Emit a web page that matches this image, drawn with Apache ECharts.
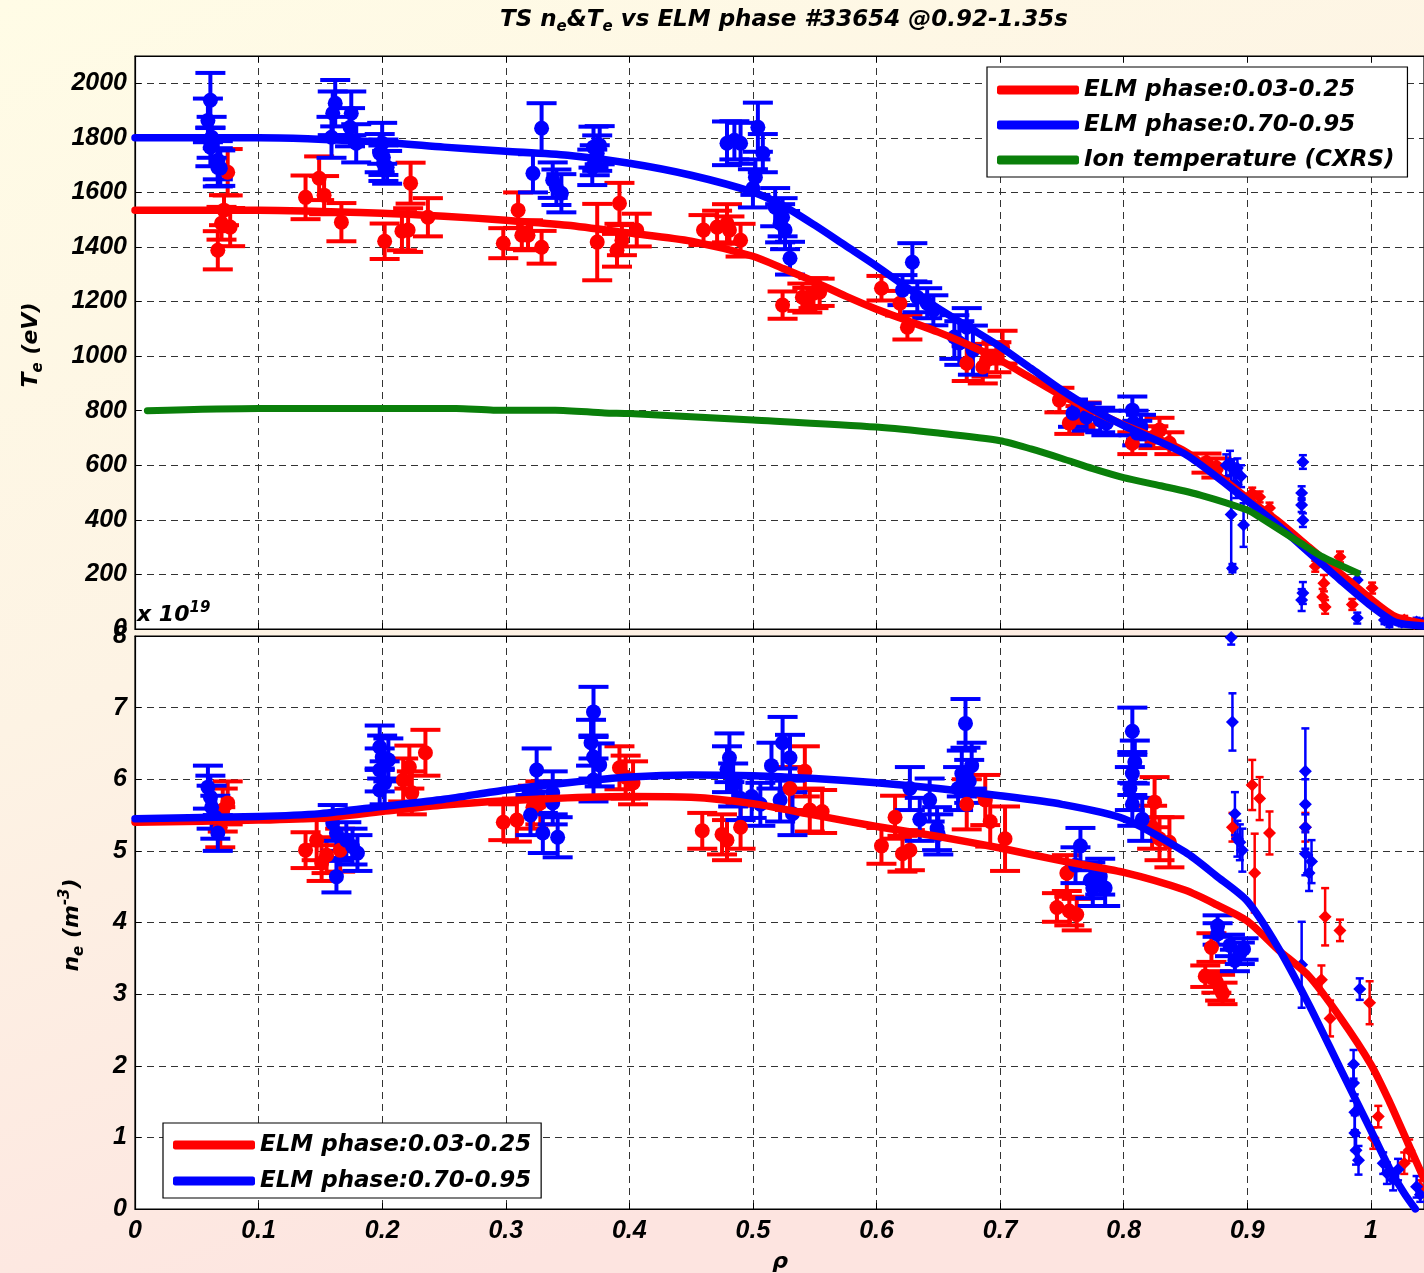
<!DOCTYPE html>
<html><head><meta charset="utf-8">
<script src="https://cdn.jsdelivr.net/npm/echarts@6/dist/echarts.min.js"></script>
<style>html,body{margin:0;padding:0;background:#fff;}#c{width:1424px;height:1273px;}</style>
</head><body><div id="c"></div>
<script>
// ---------- DATA ----------
const legendRed = 'ELM phase:0.03-0.25';
const legendBlue = 'ELM phase:0.70-0.95';
const legendIon = 'Ion temperature (CXRS)';

// Te fits
const teFitRho = [0,0.1,0.2,0.25,0.3,0.35,0.4,0.45,0.5,0.525,0.55,0.575,0.6,0.625,0.65,0.675,0.7,0.725,0.75,0.775,0.8,0.85,0.9,0.925,0.95,0.975,1.0,1.02,1.043];
const teRedFit = [1535,1535,1524,1513,1498,1480,1451,1421,1366,1320,1272,1220,1172,1130,1088,1040,985,920,855,800,748,650,480,395,300,205,110,45,20];
const teBlueFit = [1800,1800,1784,1766,1751,1736,1707,1663,1601,1550,1480,1405,1330,1250,1175,1105,1035,955,875,805,745,640,470,380,280,180,85,25,11];
// Ti (CXRS)
const tiRho = [0.01,0.1,0.2,0.26,0.29,0.34,0.38,0.4,0.5,0.6,0.65,0.7,0.725,0.75,0.775,0.8,0.83,0.862,0.9,0.91,0.943,0.961,0.989];
const tiVal = [800,808,808,808,802,802,792,790,766,740,718,690,660,625,588,555,525,491,436,410,315,264,205];
// ne fits (1e19 m^-3)
const neRedRho = [0,0.1,0.15,0.2,0.25,0.3,0.35,0.4,0.45,0.5,0.55,0.6,0.65,0.7,0.75,0.8,0.85,0.875,0.9,0.925,0.95,0.975,1.0,1.015,1.03,1.043];
const neRedFit = [5.40,5.43,5.46,5.55,5.64,5.70,5.74,5.76,5.75,5.66,5.50,5.34,5.20,5.04,4.86,4.70,4.45,4.25,4.02,3.62,3.25,2.68,2.02,1.50,0.92,0.42];
const neBlueRho = [0,0.1,0.15,0.2,0.25,0.3,0.35,0.4,0.45,0.5,0.55,0.6,0.65,0.7,0.75,0.8,0.85,0.875,0.9,0.925,0.95,0.975,1.0,1.015,1.027,1.036];
const neBlueFit = [5.45,5.48,5.52,5.62,5.72,5.85,5.95,6.03,6.06,6.05,6.01,5.95,5.87,5.77,5.65,5.45,4.98,4.65,4.30,3.65,2.85,1.97,1.10,0.57,0.22,0];

// Te points [rho, Te, err]  (core TS = circles, edge TS = diamonds)
const teRedCore = [[0.075,1674,85],[0.070,1487,60],[0.077,1473,70],[0.067,1388,70],[0.072,1535,55],
 [0.138,1582,80],[0.149,1652,80],[0.153,1590,70],[0.167,1491,70],
 [0.202,1421,65],[0.216,1458,70],[0.223,1634,75],[0.221,1462,80],[0.237,1509,70],
 [0.298,1414,55],[0.310,1535,65],[0.313,1443,50],[0.318,1443,55],[0.329,1399,60],
 [0.374,1418,140],[0.392,1560,75],[0.406,1462,60],[0.390,1388,60],[0.394,1425,55],
 [0.460,1462,55],[0.471,1473,60],[0.479,1487,70],[0.490,1425,60],[0.481,1462,50],
 [0.524,1187,50],[0.540,1216,50],[0.549,1231,55],[0.554,1234,50],[0.544,1205,45],
 [0.604,1249,45],[0.619,1194,45],[0.625,1106,45],
 [0.673,974,65],[0.686,960,60],[0.689,985,60],[0.697,996,55],[0.702,1033,60],
 [0.748,839,45],[0.756,755,40],[0.765,777,40],[0.770,790,40],
 [0.807,681,40],[0.824,703,40],[0.829,729,45],[0.837,681,40],
 [0.867,608,35],[0.875,590,35]];
const teBlueCore = [[0.061,1938,100],[0.059,1864,80],[0.062,1802,75],[0.061,1766,70],[0.067,1718,70],[0.067,1692,70],[0.069,1689,65],
 [0.162,1927,85],[0.160,1890,80],[0.175,1890,80],[0.159,1802,75],[0.174,1839,70],[0.179,1780,70],
 [0.198,1744,70],[0.201,1729,65],[0.204,1692,60],[0.201,1707,65],[0.200,1780,75],
 [0.329,1835,92],[0.322,1670,70],[0.338,1645,65],[0.341,1619,65],[0.345,1597,70],
 [0.370,1692,65],[0.371,1766,75],[0.372,1718,55],[0.374,1744,65],[0.376,1773,70],
 [0.479,1780,80],[0.490,1780,75],[0.485,1791,70],[0.504,1839,90],[0.508,1744,70],[0.502,1656,65],[0.500,1615,70],
 [0.518,1546,70],[0.524,1509,70],[0.522,1487,70],[0.526,1462,70],[0.530,1359,60],
 [0.629,1344,70],[0.621,1242,55],[0.633,1216,55],[0.641,1194,55],[0.646,1168,55],
 [0.663,1070,80],[0.667,1048,80],[0.673,1106,70],[0.678,1022,90],
 [0.759,791,50],[0.770,777,50],[0.781,766,45],[0.786,755,45],
 [0.807,802,50],[0.808,755,45],[0.811,718,45],[0.814,740,45]];
const teRedEdge = [[0.904,498,20],[0.910,484,20],[0.918,443,20],[0.955,230,20],[0.961,117,30],[0.963,81,25],
 [0.962,168,30],[0.975,264,20],[0.985,90,20],[1.001,150,20],[1.027,33,15],[1.035,20,10]];
const teBlueEdge = [[0.883,600,40],[0.886,608,45],[0.889,582,40],[0.892,590,35],[0.895,560,40],[0.888,223,15],
 [0.887,420,200],[0.897,381,80],[0.891,530,50],
 [0.945,612,25],[0.944,498,25],[0.944,454,25],[0.945,399,25],[0.944,106,40],[0.945,132,40],
 [0.989,180,30],[0.989,40,20],[1.011,33,15],[1.015,22,15],[1.025,25,15],[1.037,26,15],[1.042,22,15]];

// ne points [rho, ne, err]
const neRedCore = [[0.075,5.67,0.3],[0.071,5.57,0.3],[0.069,5.33,0.28],
 [0.138,5.01,0.25],[0.147,5.15,0.28],[0.155,4.94,0.25],[0.151,4.83,0.25],[0.166,5.01,0.3],
 [0.217,5.99,0.3],[0.222,6.17,0.3],[0.224,5.81,0.3],[0.235,6.37,0.32],
 [0.298,5.40,0.25],[0.309,5.43,0.3],[0.322,5.61,0.3],[0.328,5.67,0.3],
 [0.392,6.16,0.3],[0.403,5.95,0.3],[0.397,6.03,0.3],
 [0.459,5.28,0.25],[0.475,5.23,0.28],[0.479,5.15,0.28],[0.490,5.33,0.3],
 [0.530,5.87,0.3],[0.542,6.11,0.35],[0.546,5.57,0.3],[0.556,5.55,0.3],
 [0.604,5.07,0.25],[0.615,5.47,0.3],[0.621,4.96,0.25],[0.627,5.01,0.28],
 [0.673,5.65,0.35],[0.688,5.71,0.35],[0.692,5.41,0.35],[0.704,5.17,0.45],
 [0.746,4.21,0.2],[0.754,4.69,0.25],[0.756,4.16,0.2],[0.762,4.11,0.22],
 [0.823,5.33,0.3],[0.825,5.68,0.35],[0.829,5.17,0.3],[0.837,5.12,0.35],
 [0.866,3.25,0.15],[0.871,3.65,0.2],[0.878,3.09,0.18],[0.880,3.01,0.15],[0.875,3.17,0.15]];
const neBlueCore = [[0.059,5.89,0.3],[0.061,5.75,0.3],[0.062,5.61,0.3],[0.065,5.47,0.3],[0.067,5.25,0.25],
 [0.160,5.39,0.25],[0.163,4.64,0.22],[0.163,5.25,0.25],[0.171,5.15,0.25],[0.176,5.06,0.25],[0.180,4.97,0.25],
 [0.198,6.45,0.3],[0.200,6.31,0.3],[0.198,6.13,0.3],[0.202,5.95,0.3],[0.198,5.85,0.28],[0.205,6.27,0.3],
 [0.320,5.50,0.28],[0.325,6.13,0.3],[0.330,5.25,0.28],[0.338,5.81,0.3],[0.338,5.67,0.3],[0.342,5.19,0.28],
 [0.371,6.94,0.35],[0.369,6.51,0.32],[0.371,6.31,0.3],[0.376,6.20,0.3],[0.371,5.99,0.3],
 [0.479,6.14,0.32],[0.481,6.30,0.34],[0.484,5.92,0.3],[0.490,5.73,0.3],[0.499,5.76,0.3],[0.506,5.65,0.3],
 [0.515,6.19,0.32],[0.522,5.71,0.3],[0.524,6.51,0.36],[0.530,6.30,0.32],[0.532,5.52,0.3],
 [0.627,5.87,0.3],[0.635,5.44,0.3],[0.643,5.71,0.3],[0.649,5.31,0.3],[0.650,5.23,0.28],
 [0.666,5.87,0.3],[0.669,6.08,0.32],[0.672,6.78,0.34],[0.675,5.97,0.3],[0.677,6.19,0.32],
 [0.761,4.80,0.25],[0.765,5.07,0.25],[0.773,4.59,0.25],[0.775,4.48,0.25],[0.781,4.64,0.25],[0.785,4.48,0.25],
 [0.805,5.87,0.3],[0.807,6.67,0.33],[0.807,6.08,0.3],[0.809,6.24,0.3],[0.807,5.65,0.3],[0.815,5.44,0.3],
 [0.876,3.95,0.15],[0.876,3.84,0.15],[0.886,3.68,0.15],[0.890,3.47,0.15],[0.894,3.57,0.15],[0.897,3.63,0.15]];
const neRedEdge = [[0.888,5.33,0.2],[0.904,5.92,0.35],[0.906,4.69,0.55],[0.910,5.73,0.3],[0.918,5.25,0.3],
 [0.947,5.33,0.2],[0.960,3.20,0.2],[0.963,4.08,0.4],[0.967,2.66,0.25],[0.975,3.89,0.15],
 [0.999,2.88,0.3],[1.002,0.99,0.15],[1.006,1.29,0.15],[1.027,0.64,0.15],[1.031,0.82,0.15],[1.040,0.30,0.1]];
const neBlueEdge = [[0.887,7.98,0.1],[0.888,6.80,0.4],[0.890,5.52,0.3],[0.892,5.17,0.25],[0.894,5.12,0.25],[0.896,5.01,0.3],
 [0.947,6.11,0.6],[0.947,5.65,0.35],[0.947,5.33,0.3],[0.947,4.96,0.3],[0.952,4.85,0.3],[0.950,4.69,0.25],[0.944,3.41,0.6],
 [0.991,3.07,0.15],[0.986,2.02,0.2],[0.986,1.76,0.25],[0.987,1.35,0.25],[0.987,1.06,0.25],[0.988,0.82,0.2],[0.990,0.68,0.2],
 [1.010,0.64,0.15],[1.013,0.50,0.15],[1.018,0.41,0.15],[1.022,0.55,0.15],[1.037,0.31,0.15],[1.040,0.20,0.1]];

// ---------- CHART ----------
const RED = '#ff0000', BLUE = '#0000ff', GREEN = '#0a7f0a';
const XMAX = 1.043;
const chart = echarts.init(document.getElementById('c'), null, {renderer: 'canvas'});
const tickFont = {fontFamily: 'Liberation Sans', fontWeight: 'bold', fontStyle: 'italic', fontSize: 25, color: '#000'};
const txt = {fontFamily: 'DejaVu Sans', fontWeight: 'bold', fontStyle: 'italic', fill: '#000'};

function errSeries(data, xi, yi, color, cap, lw) {
  return {
    type: 'custom', xAxisIndex: xi, yAxisIndex: yi, data: data, encode: {x: 0, y: 1}, silent: true, clip: true,
    renderItem: function (params, api) {
      const x = api.value(0), y = api.value(1), e = api.value(2);
      const t = api.coord([x, y + e]), b = api.coord([x, y - e]);
      const mk = (x1, y1, x2, y2) => ({type: 'line', shape: {x1, y1, x2, y2}, style: {stroke: color, lineWidth: lw}});
      return {type: 'group', children: [
        mk(t[0], t[1], b[0], b[1]),
        mk(t[0] - cap / 2, t[1], t[0] + cap / 2, t[1]),
        mk(b[0] - cap / 2, b[1], b[0] + cap / 2, b[1])
      ]};
    }
  };
}
function dots(data, xi, yi, color, symbol, size) {
  return {type: 'scatter', xAxisIndex: xi, yAxisIndex: yi, data: data.map(d => [d[0], d[1]]),
    symbol: symbol, symbolSize: size, itemStyle: {color: color, opacity: 1}, silent: true, clip: true};
}
function fit(name, rho, vals, xi, yi, color, w) {
  return {type: 'line', name: name, xAxisIndex: xi, yAxisIndex: yi, data: rho.map((r, i) => [r, vals[i]]),
    showSymbol: false, symbol: 'none', smooth: 0.25, clip: true,
    lineStyle: {color: color, width: w, cap: 'round', join: 'round'}, itemStyle: {color: color}, silent: true};
}
const splitL = {show: true, lineStyle: {type: [7, 5], color: '#333', width: 1}};
const tick = {show: true, inside: true, length: 6, lineStyle: {color: '#000', width: 1}};
const axLine = {show: true, lineStyle: {color: '#000', width: 1.2}};
function xAx(gi, pos, labels) {
  return {type: 'value', gridIndex: gi, position: pos, min: 0, max: XMAX, interval: 0.1,
    axisLine: axLine, axisTick: tick, splitLine: pos === 'bottom' ? splitL : {show: false},
    axisLabel: labels ? Object.assign({show: true, margin: 10, showMaxLabel: false, formatter: v => v > 1.001 ? '' : String(+v.toFixed(2))}, tickFont) : {show: false}};
}
const legendText = {fontFamily: 'DejaVu Sans', fontWeight: 'bold', fontStyle: 'italic', fontSize: 23, color: '#000', lineHeight: 26};

const option = {
  animation: false,
  backgroundColor: {type: 'linear', x: 0, y: 0, x2: 0.35, y2: 1, colorStops: [
    {offset: 0, color: '#fffce6'}, {offset: 0.5, color: '#fdf3e4'}, {offset: 1, color: '#fde4e0'}]},
  grid: [
    {left: 135, top: 56, right: 0, height: 573, show: true, backgroundColor: '#fff', borderColor: '#000', borderWidth: 1.2},
    {left: 135, top: 636, right: 0, height: 573, show: true, backgroundColor: '#fff', borderColor: '#000', borderWidth: 1.2}
  ],
  xAxis: [xAx(0, 'bottom', false), xAx(0, 'top', false), xAx(1, 'bottom', true), xAx(1, 'top', false)],
  yAxis: [
    {type: 'value', gridIndex: 0, min: 0, max: 2100, interval: 200, axisLine: axLine, axisTick: tick, splitLine: splitL,
      axisLabel: Object.assign({margin: 8, formatter: v => v > 2050 ? '' : String(v)}, tickFont)},
    {type: 'value', gridIndex: 1, min: 0, max: 8, interval: 1, axisLine: axLine, axisTick: tick, splitLine: splitL,
      axisLabel: Object.assign({margin: 8}, tickFont)}
  ],
  legend: [
    {orient: 'vertical', left: 987, top: 67, data: [legendRed, legendBlue, legendIon], icon: 'roundRect',
      itemWidth: 82, itemHeight: 9, itemGap: 9, padding: [10, 13, 4, 10], backgroundColor: '#fff',
      borderColor: '#000', borderWidth: 1.2, borderRadius: 0, selectedMode: false, textStyle: legendText},
    {orient: 'vertical', left: 163, top: 1123, data: [legendRed, legendBlue], icon: 'roundRect',
      itemWidth: 82, itemHeight: 9, itemGap: 10, padding: [9, 10, 4, 10], backgroundColor: '#fff',
      borderColor: '#000', borderWidth: 1.2, borderRadius: 0, selectedMode: false, textStyle: legendText}
  ],
  series: [
    // top panel
    errSeries(teRedCore, 0, 0, RED, 30, 4), errSeries(teRedEdge, 0, 0, RED, 8, 2.5),
    dots(teRedCore, 0, 0, RED, 'circle', 15), dots(teRedEdge, 0, 0, RED, 'diamond', 13),
    errSeries(teBlueCore, 0, 0, BLUE, 30, 4), errSeries(teBlueEdge, 0, 0, BLUE, 8, 2.5),
    dots(teBlueCore, 0, 0, BLUE, 'circle', 15), dots(teBlueEdge, 0, 0, BLUE, 'diamond', 13),
    fit(legendRed, teFitRho, teRedFit, 0, 0, RED, 7.5),
    fit(legendBlue, teFitRho, teBlueFit, 0, 0, BLUE, 7.5),
    fit(legendIon, tiRho, tiVal, 0, 0, GREEN, 7),
    // bottom panel
    errSeries(neRedCore, 2, 1, RED, 30, 4), errSeries(neRedEdge, 2, 1, RED, 8, 2.5),
    dots(neRedCore, 2, 1, RED, 'circle', 15), dots(neRedEdge, 2, 1, RED, 'diamond', 13),
    errSeries(neBlueCore, 2, 1, BLUE, 30, 4), errSeries(neBlueEdge, 2, 1, BLUE, 8, 2.5),
    dots(neBlueCore, 2, 1, BLUE, 'circle', 15), dots(neBlueEdge, 2, 1, BLUE, 'diamond', 13),
    fit(legendRed, neRedRho, neRedFit, 2, 1, RED, 7.5),
    fit(legendBlue, neBlueRho, neBlueFit, 2, 1, BLUE, 7.5)
  ],
  graphic: [
    {type: 'text', x: 784, y: 20, z: 100, style: Object.assign({
      text: '{a|TS n}{s|e}{a|&T}{s|e}{a| vs ELM phase #33654 @0.92-1.35s}', align: 'center', verticalAlign: 'middle',
      rich: {a: Object.assign({fontSize: 23}, txt), s: Object.assign({fontSize: 15, padding: [14, 0, 0, 0]}, txt)}}, txt)},
    {type: 'text', x: 31, y: 345, rotation: Math.PI / 2, z: 100, style: Object.assign({
      text: '{a|T}{s|e}{a| (eV)}', align: 'center', verticalAlign: 'middle',
      rich: {a: Object.assign({fontSize: 22}, txt), s: Object.assign({fontSize: 15, padding: [14, 0, 0, 0]}, txt)}}, txt)},
    {type: 'text', x: 72, y: 925, rotation: Math.PI / 2, z: 100, style: Object.assign({
      text: '{a|n}{s|e}{a| (m}{p|-3}{a|)}', align: 'center', verticalAlign: 'middle',
      rich: {a: Object.assign({fontSize: 22}, txt), s: Object.assign({fontSize: 15, padding: [14, 0, 0, 0]}, txt),
        p: Object.assign({fontSize: 15, padding: [0, 0, 14, 0]}, txt)}}, txt)},
    {type: 'text', x: 780, y: 1262, z: 100, style: Object.assign({text: 'ρ', fontSize: 22, align: 'center', verticalAlign: 'middle'}, txt)},
    {type: 'text', x: 137, y: 615, z: 100, style: Object.assign({
      text: '{a|x 10}{p|19}', align: 'left', verticalAlign: 'middle',
      rich: {a: Object.assign({fontSize: 22}, txt), p: Object.assign({fontSize: 15, padding: [0, 0, 14, 0]}, txt)}}, txt)}
  ]
};
chart.setOption(option);
</script>
</body></html>
